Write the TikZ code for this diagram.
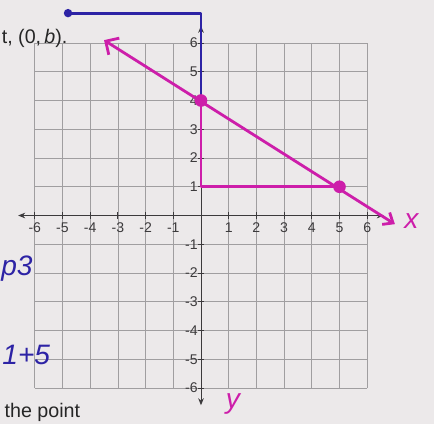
\documentclass[tikz,border=0pt]{standalone}
\usepackage{fontspec}
\setmainfont{Liberation Sans}
\usetikzlibrary{arrows.meta,positioning}
\definecolor{paper}{RGB}{236,233,234}
\definecolor{bluepen}{RGB}{45,35,165}
\definecolor{pinkpen}{RGB}{205,30,170}
\definecolor{gridgray}{RGB}{160,158,160}
\definecolor{axisgray}{RGB}{60,58,60}

\begin{document}
\begin{tikzpicture}[
    x=0.6925cm, y=0.71875cm,
    gridline/.style={gridgray, line width=0.5pt},
    axis/.style={axisgray, line width=0.7pt, {Stealth[length=5pt,width=4pt]}-{Stealth[length=5pt,width=4pt]}},
    tickmark/.style={axisgray, line width=0.6pt},
    ticklabel/.style={font=\fontsize{10}{12}\selectfont, text=axisgray, inner sep=1pt},
    blueline/.style={bluepen, line width=2pt, line cap=round, line join=round},
    pinkline/.style={pinkpen, line width=2pt, line cap=round, line join=round},
    pinkdot/.style={circle, fill=pinkpen, inner sep=0pt, minimum size=9pt},
    bluedot/.style={circle, fill=bluepen, inner sep=0pt, minimum size=6pt},
    printed/.style={font=\fontsize{14}{16}\selectfont, text=black!85, inner sep=0pt},
    hand/.style={font=\fontsize{20}{24}\selectfont\itshape, inner sep=0pt}
]
    \fill[paper] (-7.256,-7.252) rectangle (8.412,7.496);
    \useasboundingbox (-7.256,-7.252) rectangle (8.412,7.496);

    % grid
    \foreach \i in {-6,...,6} {
        \draw[gridline] (\i,-6) -- (\i,6);
        \draw[gridline] (-6,\i) -- (6,\i);
    }

    % axes
    \coordinate (xleft) at (-6.6,0);
    \coordinate (xright) at (6.6,0);
    \coordinate (ybottom) at (0,-6.6);
    \coordinate (ytop) at (0,6.6);
    \draw[axis] (xleft) -- (xright);
    \draw[axis] (ybottom) -- (ytop);
    \foreach \i in {-6,...,-1,1,2,...,6} {
        \draw[tickmark] (\i,-0.12) -- (\i,0.12);
        \draw[tickmark] (-0.12,\i) -- (0.12,\i);
        \node[ticklabel, below] (xtick\i) at (\i,-0.2) {\i};
        \node[ticklabel, left] (ytick\i) at (-0.06,\i) {\i};
    }

    % printed text
    \node[printed, anchor=west] (question) at (-7.2,6.17) {t, (0,\,\textit{b}).};
    \node[printed, anchor=base west] (bottomtext) at (-7.1,-7.02) {the point};

    % blue pen
    \node[bluedot] (bstart) at (-4.8,7.04) {};
    \coordinate (bcorner) at (0,7.04);
    \coordinate (bend) at (0,4);
    \draw[blueline] (bstart.center) -- (bcorner) -- (bend);
    \node[hand, text=bluepen, anchor=west] (note1) at (-7.22,-1.85) {p3};
    \node[hand, text=bluepen, anchor=west] (note2) at (-7.18,-4.85) {1+5};

    % pink marker
    \node[pinkdot] (yint) at (0,4) {};
    \node[pinkdot] (pt) at (5,1) {};
    \coordinate (corner) at (0,1);
    \coordinate (lineleft) at (-3.5,6.1);
    \coordinate (lineright) at (7.0,-0.3);
    \draw[pinkline, {Straight Barb[length=7pt,width=14pt]}-{Straight Barb[length=6pt,width=10pt]}] (lineleft) -- (lineright);
    \draw[pinkline] (yint.center) -- (corner) -- (pt.center);
    \node[hand, text=pinkpen] (xlabel) at (7.6,-0.2) {x};
    \node[hand, text=pinkpen] (ylabel) at (1.15,-6.55) {y};
\end{tikzpicture}
\end{document}
